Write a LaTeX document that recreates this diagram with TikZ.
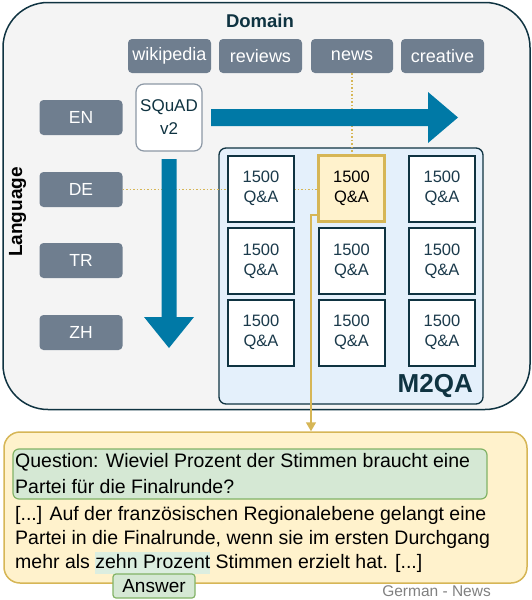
\documentclass[tikz,border=0pt]{standalone}
\usepackage{fontspec}
\setmainfont{Liberation Sans}
\usetikzlibrary{arrows.meta}
\definecolor{dark}{HTML}{0F3341}
\definecolor{slate}{HTML}{6F7E8F}
\definecolor{outerfill}{HTML}{F4F4F4}
\definecolor{bluefill}{HTML}{E4F0FB}
\definecolor{arrowblue}{HTML}{0079A6}
\definecolor{goldline}{HTML}{D6B656}
\definecolor{goldfill}{HTML}{FFF2CC}
\definecolor{greenfill}{HTML}{D5E8D4}
\definecolor{greenline}{HTML}{82B366}
\definecolor{hlgreen}{HTML}{DCEEE0}
\definecolor{celltext}{HTML}{1B3A4B}
\newcommand{\hlbox}[1]{{\setlength\fboxsep{0pt}\colorbox{hlgreen}{\rule[-6pt]{0pt}{22pt}#1}}}
\tikzset{
  tagbox/.style={draw=none, fill=slate, rounded corners=4pt, text=white, inner sep=0pt,
    font=\fontsize{18}{20}\selectfont},
  langbox/.style={tagbox, minimum width=83pt, minimum height=35pt, font=\fontsize{17.5}{20}\selectfont},
  dombox/.style={tagbox, minimum width=83pt, minimum height=34pt},
  cellbox/.style={draw=dark, line width=2pt, fill=white, minimum width=66pt, minimum height=66pt,
    inner sep=0pt, align=center, text=celltext, font=\fontsize{16.5}{20}\selectfont},
  hlcell/.style={cellbox, draw=goldline, line width=3pt, fill=goldfill, text=black},
  txtline/.style={anchor=base west, inner sep=0pt, font=\fontsize{19.5}{24}\selectfont},
  guide/.style={goldline, line width=1.5pt, dash pattern=on 1.5pt off 2pt},
  bigarrow/.style={fill=arrowblue, draw=none},
}
\begin{document}
\begin{tikzpicture}[x=1pt,y=-1pt]
\useasboundingbox (0,0) rectangle (532,600);
% outer panel
\node[draw=dark, line width=1.5pt, fill=outerfill, rounded corners=45pt,
  minimum width=527pt, minimum height=407pt, inner sep=0pt] (outer) at (266.5,206) {};
\node[font=\bfseries\fontsize{18.5}{20}\selectfont, text=dark] (domain) at (260,20.5) {Domain};
\node[font=\bfseries\fontsize{19}{20}\selectfont, text=black, rotate=90] (language) at (17.5,212) {Language};
% domain boxes
\node[dombox] (wiki) at (169.5,56) {wikipedia};
\node[dombox] (reviews) at (260.5,56) {reviews};
\node[dombox, minimum width=82pt] (news) at (352,56) {news};
\node[dombox] (creative) at (442.5,56) {creative};
% language boxes
\node[langbox] (EN) at (81,117.5) {EN};
\node[langbox] (DE) at (81,189.5) {DE};
\node[langbox] (TR) at (81,260.5) {TR};
\node[langbox] (ZH) at (81,332.5) {ZH};
% SQuAD
\node[draw=slate!80, line width=1.2pt, fill=white, rounded corners=8pt, minimum width=66pt,
  minimum height=67pt, inner sep=0pt, align=center, text=dark,
  font=\fontsize{17}{23}\selectfont] (squad) at (169,117.5) {SQuAD\\v2};
% M2QA panel
\node[draw=dark, line width=1.3pt, fill=bluefill, rounded corners=7pt, minimum width=264pt,
  minimum height=256pt, inner sep=0pt] (m2qa) at (351,276) {};
\node[anchor=base east, inner sep=0pt, text=dark, font=\bfseries\fontsize{26}{28}\selectfont] (m2qalabel) at (473,392.5) {M2QA};
% highlighted cell reference (for guides)
\coordinate (hlc) at (351.5,188.5);
% guides
\draw[guide] (news.south) -- (news.south |- hlc);
\draw[guide] (DE.east) -- (DE.east -| 318,0);
% big arrows
\fill[bigarrow] (211,109) -- (428,109) -- (428,92) -- (458,117.5) -- (428,143) -- (428,126) -- (211,126) -- cycle;
\fill[bigarrow] (161.5,159) -- (176.5,159) -- (176.5,317) -- (194,317) -- (169,348) -- (144,317) -- (161.5,317) -- cycle;
% cells
\node[cellbox] (c11) at (261,188.5) {1500\\Q\&A};
\node[hlcell] (c12) at (351.5,188.5) {1500\\Q\&A};
\node[cellbox] (c13) at (442,188.5) {1500\\Q\&A};
\node[cellbox] (c21) at (261,261) {1500\\Q\&A};
\node[cellbox] (c22) at (351.5,261) {1500\\Q\&A};
\node[cellbox] (c23) at (442,261) {1500\\Q\&A};
\node[cellbox] (c31) at (261,332.5) {1500\\Q\&A};
\node[cellbox] (c32) at (351.5,332.5) {1500\\Q\&A};
\node[cellbox] (c33) at (442,332.5) {1500\\Q\&A};
% bottom panel
\node[draw=goldline, line width=1.5pt, fill=goldfill, rounded corners=16pt, minimum width=523pt,
  minimum height=151pt, inner sep=0pt] (bottom) at (265.5,507.5) {};
% connector
\coordinate (turn) at (311,215);
\draw[goldline, line width=1.5pt, -{Triangle[length=9pt,width=10pt]}] (c12.west |- turn) -- (turn) -- (turn |- bottom.north);
% question
\node[draw=greenline, line width=1.2pt, fill=greenfill, rounded corners=6pt, minimum width=474pt,
  minimum height=50pt, inner sep=0pt] (qbox) at (250,474) {};
\node[txtline] (q1) at (15,467.5) {Question: Wieviel Prozent der Stimmen braucht eine};
\node[txtline] (q2) at (15,493) {Partei für die Finalrunde?};
\node[txtline] (p1) at (15,520) {[...] Auf der französischen Regionalebene gelangt eine};
\node[txtline] (p2) at (15,544) {Partei in die Finalrunde, wenn sie im ersten Durchgang};
\node[txtline] (p3) at (15,568) {mehr als \hlbox{zehn Prozent} Stimmen erzielt hat. [...]};
\node[draw=greenline, line width=1.2pt, fill=greenfill, rounded corners=3pt, minimum width=82pt,
  minimum height=24pt, inner sep=0pt, font=\fontsize{19}{20}\selectfont] (answer) at (154,586) {Answer};
\node[anchor=base east, inner sep=0pt, text=gray, font=\fontsize{15.5}{18}\selectfont] (tag) at (491,596) {German - News};
\end{tikzpicture}
\end{document}
